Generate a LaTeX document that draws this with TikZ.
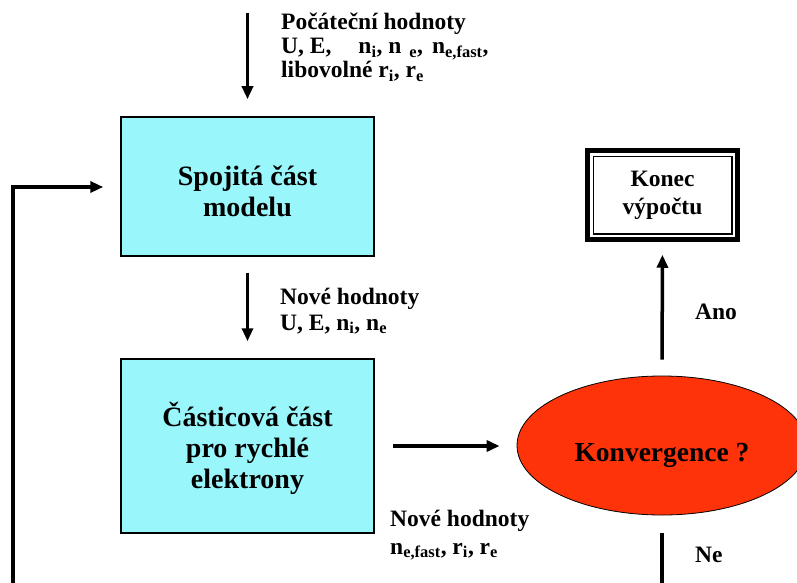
\documentclass[tikz,border=0pt]{standalone}
\usepackage{fontspec}
\setmainfont{Liberation Serif}
\usetikzlibrary{arrows.meta,shapes.geometric}
\definecolor{boxcyan}{RGB}{153,246,250}
\definecolor{convred}{RGB}{255,51,10}
\begin{document}
\begin{tikzpicture}[x=1pt,y=-1pt,
  arr/.style={line width=3.5pt,-{Triangle[length=13pt,width=11pt]}},
  plainline/.style={line width=3.5pt},
  procbox/.style={draw=black,line width=1.5pt,fill=boxcyan,minimum width=253pt,align=center,
    font=\bfseries\fontsize{28}{31}\selectfont,inner sep=0pt},
  lbl/.style={font=\bfseries\fontsize{23.5}{24}\selectfont,inner sep=0pt,anchor=base west},
  lblb/.style={lbl,font=\bfseries\fontsize{23.5}{26}\selectfont},
  lblc/.style={lbl,font=\bfseries\fontsize{23.5}{28}\selectfont}]
\useasboundingbox (0,0) rectangle (797,583);
\fill[white] (0,0) rectangle (797,583);

% nodes
\node[procbox,minimum height=139pt] (b1) at (247.5,186.5) {\rule{0pt}{30pt}Spojitá část\\modelu};
\node[procbox,minimum height=174pt] (b2) at (247.5,446) {\rule{0pt}{30pt}Částicová část\\pro rychlé\\elektrony};
\node[ellipse,draw=black,line width=0.8pt,fill=convred,minimum width=290pt,minimum height=139pt,
  inner sep=0pt,font=\bfseries\fontsize{27.5}{30}\selectfont] (conv) at (662,445.5) {\rule{0pt}{38pt}Konvergence ?};
\node[draw=black,line width=4.5pt,fill=white,minimum width=150pt,minimum height=89pt,inner sep=0pt,
  align=center,font=\bfseries\fontsize{23.5}{28}\selectfont] (konec) at (662.5,195) {Konec\\výpočtu};
\draw[line width=1.5pt] ([shift={(8,8)}]konec.north west) rectangle ([shift={(-8,-8)}]konec.south east);

% labels
\node[lbl] (t1) at (281,30) {\begin{tabular}[t]{@{}l@{}}Počáteční hodnoty\\
U, E,\hspace{27pt}n\textsubscript{i}, n\hspace{8pt}\textsubscript{e},\hspace{9pt}n\textsubscript{e,fast},\\
libovolné r\textsubscript{i}, r\textsubscript{e}\end{tabular}};
\node[lblb] (t2) at (280,304) {\begin{tabular}[t]{@{}l@{}}Nové hodnoty\\
U, E, n\textsubscript{i}, n\textsubscript{e}\end{tabular}};
\node[lblc] (t3) at (390,526) {\begin{tabular}[t]{@{}l@{}}Nové hodnoty\\
n\textsubscript{e,fast}, r\textsubscript{i}, r\textsubscript{e}\end{tabular}};
\node[lbl] (ano) at (695,319) {Ano};
\node[lbl] (ne) at (695,562) {Ne};

% connectors
\coordinate (t0) at (247.5,13);
\draw[arr,shorten >=17pt] (t0) -- (b1.north);
\draw[arr,shorten <=16pt,shorten >=17pt] (b1) -- (b2);
\draw[arr,shorten <=18pt,shorten >=17pt] (b2.east) -- (b2.east -| conv.west);
\draw[arr,shorten <=16pt,shorten >=13pt] (conv.north) -- (konec.south);
\coordinate (nend) at (662,592);
\draw[plainline,shorten <=18pt] (conv.south) -- (nend);
\coordinate (l0) at (13,592);
\coordinate (l1) at (13,187);
\draw[arr,shorten >=17pt] (l0) -- (l1) -- (l1 -| b1.west);
\end{tikzpicture}
\end{document}
